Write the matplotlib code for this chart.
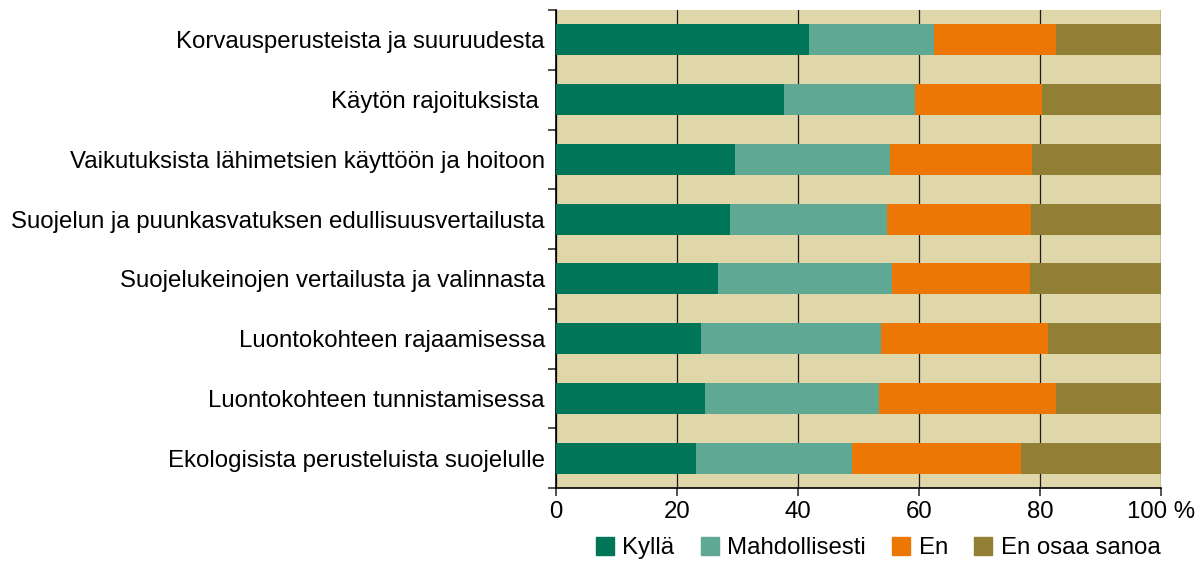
import numpy as np
import matplotlib
matplotlib.use('Agg')
from matplotlib import pyplot as plt
from matplotlib.patches import Patch

plt.rcParams['font.family'] = ['Liberation Sans', 'DejaVu Sans']

categories = ['Korvausperusteista ja suuruudesta',
              'Käytön rajoituksista ',
              'Vaikutuksista lähimetsien käyttöön ja hoitoon',
              'Suojelun ja puunkasvatuksen edullisuusvertailusta',
              'Suojelukeinojen vertailusta ja valinnasta',
              'Luontokohteen rajaamisessa',
              'Luontokohteen tunnistamisessa',
              'Ekologisista perusteluista suojelulle']
kylla = [41.8, 37.7, 29.6, 28.8, 26.8, 23.9, 24.7, 23.1]
mahdollisesti = [20.7, 21.7, 25.6, 25.9, 28.7, 29.8, 28.7, 25.9]
en = [20.2, 20.9, 23.5, 23.8, 22.8, 27.7, 29.3, 27.9]
en_osaa = [17.3, 19.7, 21.3, 21.5, 21.7, 18.6, 17.3, 23.1]

series = [('Kyllä', kylla, '#007558'),
          ('Mahdollisesti', mahdollisesti, '#5fa893'),
          ('En', en, '#ec7704'),
          ('En osaa sanoa', en_osaa, '#907f35')]

fig = plt.figure(figsize=(12.04, 5.61), dpi=100)
ax = fig.add_axes([556/1204, 1 - 488/561, 605/1204, 478/561])
ax.set_facecolor('#dfd6aa')

y = np.arange(len(categories))
left = np.zeros(len(categories))
for name, vals, col in series:
    ax.barh(y, vals, left=left, height=0.52, color=col, label=name, zorder=3)
    left += np.array(vals)

ax.set_xlim(0, 100)
ax.set_ylim(len(categories) - 0.5, -0.5)
ax.set_xticks([0, 20, 40, 60, 80, 100])
ax.set_xticklabels(['0', '20', '40', '60', '80', '100 %'])
ax.xaxis.grid(True, color='#1a1a1a', lw=0.9, zorder=1)

# category labels without ticks, ticks at boundaries
ax.set_yticks(y)
ax.set_yticklabels(categories)
ax.tick_params(axis='y', length=0, pad=8, labelsize=17.3)
ax.set_yticks(np.arange(len(categories) + 1) - 0.5, minor=True)
ax.tick_params(axis='y', which='minor', length=6, width=1.2, color='#333333')
ax.tick_params(axis='x', length=6, width=1.2, labelsize=17.3, pad=3, color='#333333')

for s in ['top', 'right']:
    ax.spines[s].set_visible(False)
ax.spines['left'].set_linewidth(1.2)
ax.spines['bottom'].set_linewidth(1.2)

handles = [Patch(color=c, label=n) for n, _, c in series]
fig.legend(handles=handles, loc='center', bbox_to_anchor=(878/1204, 1 - 548/561),
           ncol=4, frameon=False, fontsize=17.3, handlelength=0.75, handleheight=0.75,
           handletextpad=0.35, columnspacing=1.1)

fig.savefig('out.png', dpi=100)
